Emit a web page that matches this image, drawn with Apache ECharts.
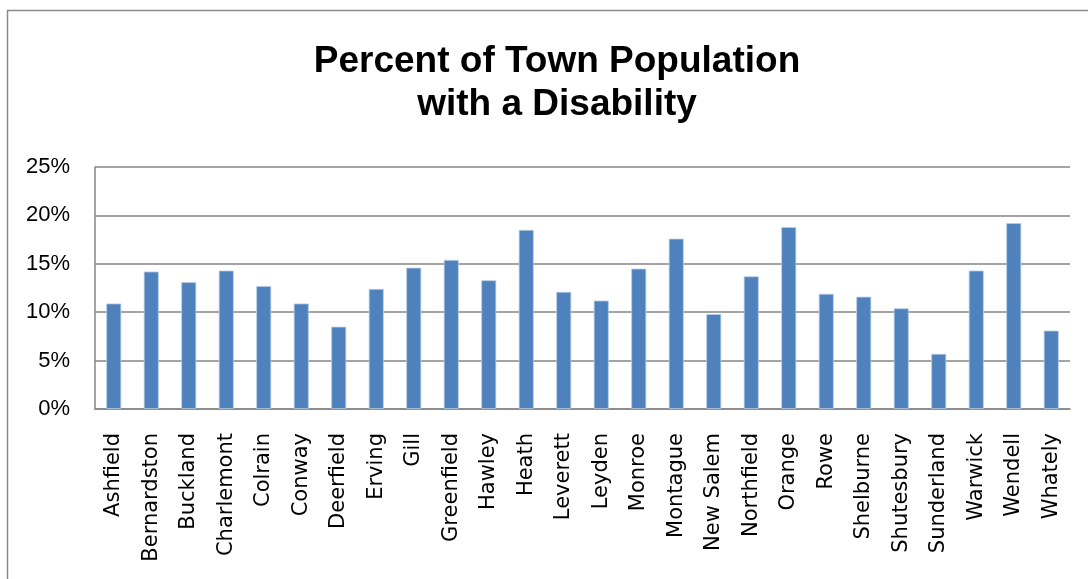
<!DOCTYPE html>
<html>
<head>
<meta charset="utf-8">
<script src="https://cdn.jsdelivr.net/npm/echarts@6/dist/echarts.min.js"></script>
<style>html,body{margin:0;padding:0;background:#fff;}#c{width:1088px;height:579px;}</style>
</head>
<body>
<div id="c"></div>
<script>
const titleLines = ['Percent of Town Population', 'with a Disability'];
const towns = ['Ashfield','Bernardston','Buckland','Charlemont','Colrain','Conway','Deerfield','Erving','Gill','Greenfield','Hawley','Heath','Leverett','Leyden','Monroe','Montague','New Salem','Northfield','Orange','Rowe','Shelburne','Shutesbury','Sunderland','Warwick','Wendell','Whately'];
const pctDisabled = [10.9,14.2,13.1,14.3,12.7,10.9,8.5,12.4,14.6,15.4,13.3,18.5,12.1,11.2,14.5,17.6,9.8,13.7,18.8,11.9,11.6,10.4,5.7,14.3,19.2,8.1];
const yTicks = [0,5,10,15,20,25];

const chart = echarts.init(document.getElementById('c'), null, {renderer:'canvas'});
chart.setOption({
  animation:false,
  backgroundColor:'#fff',
  graphic:[{type:'rect',shape:{x:7.5,y:10.5,width:1200,height:700},style:{fill:'none',stroke:'#8a8a8a',lineWidth:1.5},silent:true,z:-1}],
  title:{
    text:titleLines.join('\n'),
    left:552, top:35, textAlign:'center',
    textStyle:{fontFamily:'Liberation Sans',fontWeight:'bold',fontSize:37,lineHeight:43,color:'#000'}
  },
  grid:{left:95,right:18,top:167,bottom:170,containLabel:false},
  xAxis:{
    type:'category', data:towns,
    axisLine:{lineStyle:{color:'#868686',width:1.5}},
    axisTick:{show:false},
    axisLabel:{rotate:90,interval:0,margin:24,fontFamily:'DejaVu Sans',fontSize:21,color:'#000'}
  },
  yAxis:{
    type:'value', min:yTicks[0], max:yTicks[yTicks.length-1], interval:5,
    axisLine:{show:true,lineStyle:{color:'#868686',width:1.5}},
    axisTick:{show:false},
    axisLabel:{formatter:v=>v+'%',margin:25,fontFamily:'Liberation Sans',fontSize:22,color:'#000'},
    splitLine:{lineStyle:{color:'#868686',width:1.5}}
  },
  series:[{
    type:'bar', data:pctDisabled, barWidth:'40%',
    itemStyle:{color:'#4F81BD',borderColor:'#b9cde5',borderWidth:0.8}
  }]
});
</script>
</body>
</html>
